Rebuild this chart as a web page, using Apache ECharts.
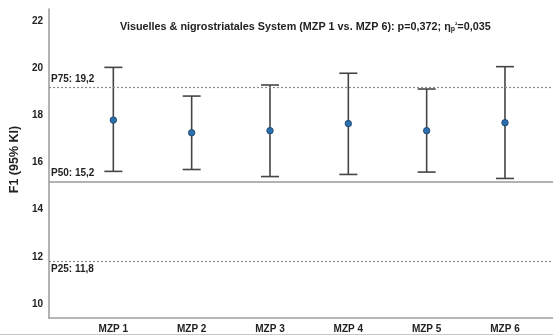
<!DOCTYPE html>
<html>
<head>
<meta charset="utf-8">
<script src="https://cdn.jsdelivr.net/npm/echarts@6/dist/echarts.min.js"></script>
<style>html,body{margin:0;padding:0;background:#fff;}#c{width:553px;height:336px;}</style>
</head>
<body>
<div id="c"></div>
<script>
var categories = ['MZP 1', 'MZP 2', 'MZP 3', 'MZP 4', 'MZP 5', 'MZP 6'];
var means = [17.81, 17.27, 17.36, 17.66, 17.36, 17.70];
var lowerCI = [15.63, 15.71, 15.41, 15.50, 15.60, 15.33];
var upperCI = [20.05, 18.83, 19.30, 19.80, 19.13, 20.08];
var yTicks = [10, 12, 14, 16, 18, 20, 22];
var refValues = [19.2, 15.2, 11.8];
var refLabels = ['P75: 19,2', 'P50: 15,2', 'P25: 11,8'];

var FONT = 'Liberation Sans, Arial, sans-serif';
var chart = echarts.init(document.getElementById('c'));

var ciData = categories.map(function (c, i) { return [i, lowerCI[i], upperCI[i]]; });
var meanData = categories.map(function (c, i) { return [i, means[i]]; });
var xIdx = categories.map(function (c, i) { return i; });

var refStyles = [
  { type: [2, 2], color: '#888', width: 1.2, pos: 'insideStartTop' },
  { type: 'solid', color: '#999', width: 1.6, pos: 'insideStartTop' },
  { type: [2, 2], color: '#888', width: 1.2, pos: 'insideStartBottom' }
];

chart.setOption({
  animation: false,
  title: {
    text: 'Visuelles & nigrostriatales System (MZP 1 vs. MZP 6): p=0,372; {m|η}{sub|p}{sup|²}{m|=0,035}',
    left: 115,
    top: 17,
    textStyle: {
      fontFamily: FONT, fontSize: 10.8, fontWeight: 'bold', color: '#222',
      rich: {
        m: { fontFamily: FONT, fontSize: 10.8, fontWeight: 'bold', color: '#222' },
        sub: { fontFamily: FONT, fontSize: 7, fontWeight: 'bold', color: '#222', verticalAlign: 'bottom', padding: [4, 0, 0, 0] },
        sup: { fontFamily: FONT, fontSize: 7, fontWeight: 'bold', color: '#222', verticalAlign: 'top', padding: [0, 0, 4, 0] }
      }
    }
  },
  grid: { left: 49, right: 0, top: 9, bottom: 18, containLabel: false },
  xAxis: {
    type: 'value',
    min: -0.821,
    max: 5.613,
    splitLine: { show: false },
    axisTick: { show: false },
    axisLine: { show: true, onZero: false, lineStyle: { color: '#a0a0a0', width: 1.6 } },
    axisLabel: {
      customValues: xIdx,
      formatter: function (v) { return categories[Math.round(v)] || ''; },
      fontFamily: FONT, fontSize: 10, fontWeight: 'bold', color: '#222', margin: 6
    }
  },
  yAxis: {
    type: 'value',
    min: 9.4,
    max: 22.53,
    name: 'F1 (95% KI)',
    nameLocation: 'middle',
    nameGap: 28,
    nameTextStyle: { fontFamily: FONT, fontSize: 12.5, fontWeight: 'bold', color: '#222', padding: [0, 0, 0, 8] },
    splitLine: { show: false },
    axisTick: { show: false },
    axisLine: { show: true, onZero: false, lineStyle: { color: '#a0a0a0', width: 1.6 } },
    axisLabel: {
      customValues: yTicks,
      fontFamily: FONT, fontSize: 10, fontWeight: 'bold', color: '#222', margin: 6
    }
  },
  graphic: [{
    type: 'line',
    shape: { x1: 0, y1: 334.5, x2: 553, y2: 334.5 },
    style: { stroke: '#c8c8c8', lineWidth: 1 },
    silent: true
  }],
  series: [
    {
      type: 'custom',
      data: ciData,
      z: 3,
      renderItem: function (params, api) {
        var x = api.value(0);
        var lo = api.coord([x, api.value(1)]);
        var hi = api.coord([x, api.value(2)]);
        var hw = 9;
        var st = { stroke: '#454545', lineWidth: 1.6 };
        return {
          type: 'group',
          children: [
            { type: 'line', shape: { x1: lo[0], y1: lo[1], x2: hi[0], y2: hi[1] }, style: st },
            { type: 'line', shape: { x1: lo[0] - hw, y1: lo[1], x2: lo[0] + hw, y2: lo[1] }, style: st },
            { type: 'line', shape: { x1: hi[0] - hw, y1: hi[1], x2: hi[0] + hw, y2: hi[1] }, style: st }
          ]
        };
      }
    },
    {
      type: 'scatter',
      data: meanData,
      z: 5,
      symbol: 'circle',
      symbolSize: 6.5,
      itemStyle: { color: '#2a6fae', borderColor: '#1d3f66', borderWidth: 0.8, opacity: 1 },
      markLine: {
        silent: true,
        symbol: ['none', 'none'],
        data: refValues.map(function (v, i) {
          return {
            yAxis: v,
            lineStyle: { type: refStyles[i].type, color: refStyles[i].color, width: refStyles[i].width },
            label: {
              show: true,
              position: refStyles[i].pos,
              formatter: refLabels[i],
              distance: [2, 3],
              fontFamily: FONT, fontSize: 10, fontWeight: 'bold', color: '#222'
            }
          };
        })
      }
    }
  ]
});
</script>
</body>
</html>
